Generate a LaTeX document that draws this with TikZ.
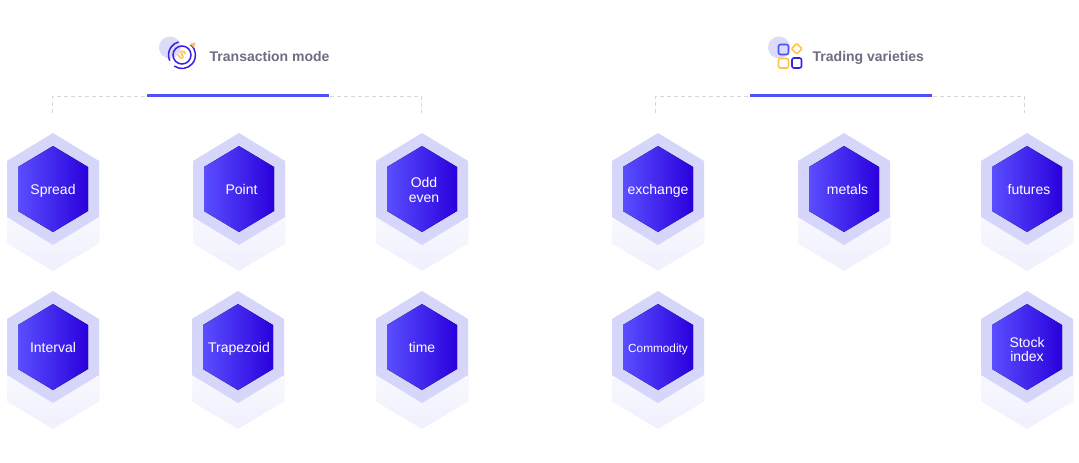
\documentclass[tikz,border=0pt]{standalone}
\usepackage{fontspec}
\setmainfont{Liberation Sans}
\definecolor{hexouter}{HTML}{D6D6FB}
\definecolor{hexleft}{HTML}{5A4EFF}
\definecolor{hexright}{HTML}{2A00DC}
\definecolor{shadetop}{HTML}{FAFAFF}
\definecolor{shadebot}{HTML}{F1F1FE}
\definecolor{barblue}{HTML}{5050FA}
\definecolor{titlegray}{HTML}{6F6D80}
\definecolor{dashgray}{HTML}{D8D8D8}
\definecolor{ringblue}{HTML}{3A22E0}
\definecolor{iconyellow}{HTML}{FFC443}
\definecolor{iconhalo}{HTML}{DCDBF8}
\tikzset{
  x=1pt,y=-1pt,
  hexlabel/.style={text=white,align=center,inner sep=0pt,text height=10pt,text depth=0pt},
  titlelabel/.style={text=titlegray,font=\bfseries\fontsize{14}{16}\selectfont,anchor=west,inner sep=0pt,text height=10pt,text depth=0pt},
  dashlink/.style={draw=dashgray,dash pattern=on 4pt off 3pt,line width=0.8pt},
  topbar/.style={fill=barblue,draw=none},
  iconring/.style={draw=ringblue,line width=1.5pt},
  iconsquare/.style={line width=1.6pt},
}
% #1 font size, #2 x, #3 y, #4 name, #5 label shifts, #6 text
\newcommand{\hexcell}[6][14]{%
  \foreach \t/\mix in {82/0,72/14,62/28,54/42,46/56,38/70,32/85}{%
    \pgfmathsetmacro{\hw}{\t>54 ? 46*(82-\t)/28 : 46}
    \pgfmathsetmacro{\yb}{\t>54 ? 54 : \t}
    \pgfmathsetmacro{\xx}{#2}\pgfmathsetmacro{\yy}{#3}
    \fill[shadetop!\mix!shadebot]
      (\xx-46,\yy+28) -- (\xx+46,\yy+28) -- (\xx+46,\yy+\yb) -- (\xx+\hw,\yy+\t) -- (\xx-\hw,\yy+\t) -- (\xx-46,\yy+\yb) -- cycle;
  }
  \fill[hexouter] (#2,#3-56) -- (#2+46,#3-28) -- (#2+46,#3+28) -- (#2,#3+56) -- (#2-46,#3+28) -- (#2-46,#3-28) -- cycle;
  \fill[left color=hexleft,right color=hexright] (#2,#3-43) -- (#2+35,#3-22) -- (#2+35,#3+22) -- (#2,#3+43) -- (#2-35,#3+22) -- (#2-35,#3-22) -- cycle;
  \node[hexlabel,font=\fontsize{#1}{14.5}\selectfont,#5] (#4) at (#2,#3) {#6};
}
\begin{document}
\begin{tikzpicture}
\useasboundingbox (0,0) rectangle (1079,463);
\fill[white] (0,0) rectangle (1079,463);

% left group
\coordinate (la) at (52.5,113);
\coordinate (lb) at (421.5,113);
\coordinate (lc) at (52.5,96.5);
\coordinate (ld) at (421.5,96.5);
\draw[dashlink] (la) -- (lc) -- (ld) -- (lb);
\fill[topbar] (147,94) rectangle (329,97);
\fill[iconhalo] (170,47.5) circle (11);
\draw[iconring] (182,55) circle (9);
% y axis points down here, so angles run clockwise on the page
\draw[iconring] ([shift={(-50:13.5)}]182,55) arc (-50:125:13.5);
\draw[iconring] ([shift={(155:13.5)}]182,55) arc (155:255:13.5);
\fill[iconyellow] (190,44) -- (195.5,42.5) -- (194,48) -- cycle;
\node[text=iconyellow,inner sep=0pt,font=\bfseries\fontsize{12}{12}\selectfont,rotate=-35] (dollar) at (182,55) {\$};
\node[titlelabel] (t1) at (209.5,56) {Transaction mode};

% right group
\coordinate (ra) at (655.5,113);
\coordinate (rb) at (1024.5,113);
\coordinate (rc) at (655.5,96.5);
\coordinate (rd) at (1024.5,96.5);
\draw[dashlink] (ra) -- (rc) -- (rd) -- (rb);
\fill[topbar] (750,94) rectangle (932,97);
\fill[iconhalo] (779,47.5) circle (11);
\draw[iconsquare,draw=barblue,rounded corners=2pt] (778.5,44.5) rectangle (788.5,54.5);
\draw[iconsquare,draw=iconyellow,rounded corners=2pt] (778.5,58.5) rectangle (788.5,68);
\draw[iconsquare,draw=ringblue,rounded corners=2pt] (792,58) rectangle (801.5,68);
\draw[iconsquare,draw=iconyellow,rounded corners=1pt] (796.7,43.5) -- (802,48.8) -- (796.7,54) -- (791.5,48.8) -- cycle;
\node[titlelabel] (t2) at (812.5,56) {Trading varieties};

% hexagons
\hexcell{53}{189}{spread}{}{Spread}
\hexcell{239}{189}{point}{xshift=2.5pt}{Point}
\hexcell{422}{189}{odd}{xshift=2pt,yshift=-8pt}{Odd\\even}
\hexcell{658}{189}{exch}{}{exchange}
\hexcell{844}{189}{metals}{xshift=3.5pt}{metals}
\hexcell{1027}{189}{fut}{xshift=2pt}{futures}
\hexcell{53}{347}{interval}{}{Interval}
\hexcell{238}{347}{trap}{xshift=1pt}{Trapezoid}
\hexcell{422}{347}{time}{}{time}
\hexcell[11.8]{658}{347}{comm}{}{Commodity}
\hexcell{1027}{347}{stock}{yshift=-9.5pt}{Stock\\index}
\end{tikzpicture}
\end{document}
